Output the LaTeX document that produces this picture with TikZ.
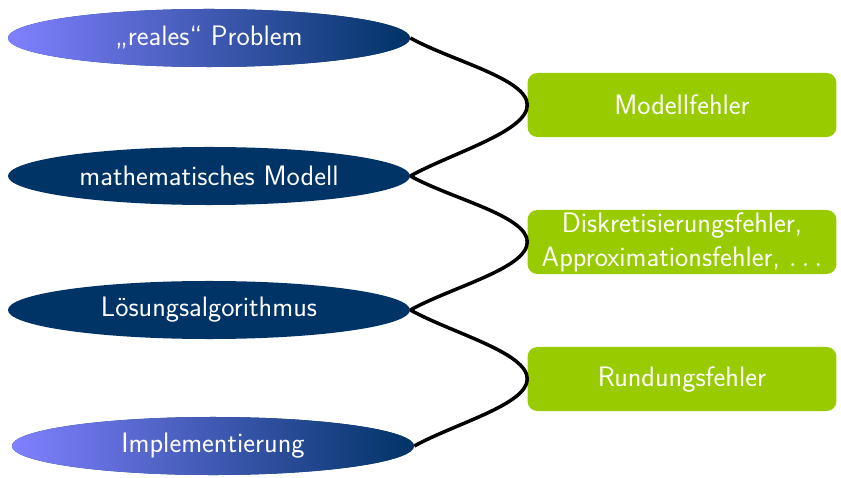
\documentclass[tikz,border=0pt]{standalone}
\usetikzlibrary{shapes.geometric}

\definecolor{darkblue}{RGB}{0,51,102}
\definecolor{lightblue}{RGB}{128,128,255}
\definecolor{errgreen}{RGB}{153,204,0}

\begin{document}
\begin{tikzpicture}[
	x=0.025cm, y=-0.025cm,
	every node/.style={font=\sffamily\fontsize{20}{24}\selectfont, text=white},
	stage/.style={ellipse, fill=darkblue, minimum width=10.05cm, minimum height=1.45cm, inner sep=0pt},
	stageshade/.style={stage, left color=lightblue, right color=darkblue},
	fehler/.style={rectangle, rounded corners=7pt, fill=errgreen, minimum width=7.72cm, minimum height=1.6cm, inner sep=0pt, align=center},
	link/.style={black, line width=2.5pt, out looseness=0.9, in looseness=0.5},
]

\useasboundingbox (0,0) rectangle (841,478);

\begin{scope}[]
%%% STAGES
\node [stageshade] (real) at (209,38) {\quotedblbase reales\textquotedblleft\ Problem};
\node [stage] (modell) at (209,176) {mathematisches Modell};
\node [stage] (algo) at (209,310) {Lösungsalgorithmus};
\node [stageshade] (impl) at (213,446) {Implementierung};
\end{scope}

\begin{scope}[]
%%% ERRORS
\node [fehler] (mfehler) at (682,105) {Modellfehler};
\node [fehler] (dfehler) at (682,242) {Diskretisierungsfehler,\\Approximationsfehler, $\dots$};
\node [fehler] (rfehler) at (682,379) {Rundungsfehler};
\end{scope}

\draw [link] (real.east) to[out=-29,in=90] (mfehler.west);
\draw [link] (modell.east) to[out=29,in=-90] (mfehler.west);
\draw [link] (modell.east) to[out=-29,in=90] (dfehler.west);
\draw [link] (algo.east) to[out=29,in=-90] (dfehler.west);
\draw [link] (algo.east) to[out=-29,in=90] (rfehler.west);
\draw [link] (impl.east) to[out=29,in=-90] (rfehler.west);

\end{tikzpicture}
\end{document}
